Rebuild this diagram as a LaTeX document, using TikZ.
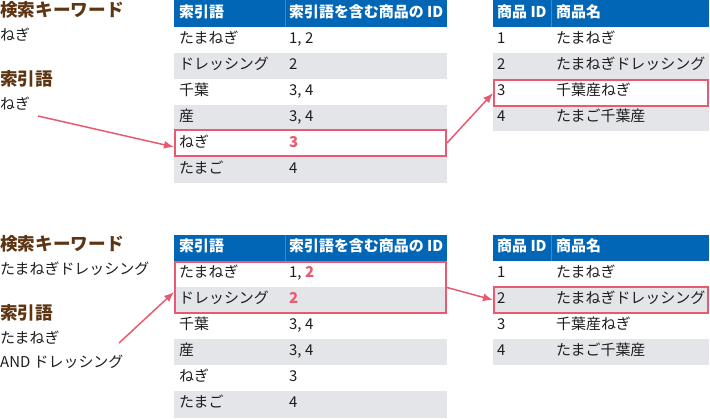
\documentclass[tikz,border=0pt]{standalone}
\usepackage{fontspec}
\setmainfont{Noto Sans CJK JP}
\usetikzlibrary{arrows.meta}
\definecolor{hdrblue}{HTML}{0066B5}
\definecolor{hdrline}{HTML}{3D8AC8}
\definecolor{rowgray}{HTML}{E4E5E9}
\definecolor{hlred}{HTML}{E95A70}
\definecolor{labbrown}{HTML}{5E3512}
\definecolor{txt}{HTML}{1E1E1E}
\begin{document}
\begin{tikzpicture}[x=1bp,y=-1bp,
  cell/.style={anchor=west, inner sep=0pt, text height=0.87em, text depth=0.13em, font=\fontsize{15}{17}\selectfont, text=txt},
  hcell/.style={cell, text=white, font=\fontsize{15}{17}\selectfont\bfseries},
  hl/.style={text=hlred, font=\fontsize{15}{17}\selectfont\bfseries},
  lab/.style={anchor=west, inner sep=0pt, text height=0.87em, text depth=0.13em, text=labbrown, font=\fontsize{17.7}{20}\selectfont\bfseries},
  labtext/.style={cell},
  hdr/.style={fill=hdrblue},
  grayrow/.style={fill=rowgray},
  hsep/.style={draw=hdrline, line width=0.8bp},
  redbox/.style={draw=hlred, line width=2bp, inner sep=0pt},
  conn/.style={draw=hlred, line width=1.5bp, -{Latex[length=10bp,width=8bp]}},
]
\useasboundingbox (0,0) rectangle (710,418);

% ---------- left labels (top) ----------
\node[lab] (k1) at (0,12.5) {検索キーワード};
\node[labtext] (k1v) at (0,37) {ねぎ};
\node[lab] (s1) at (0,82) {索引語};
\node[labtext] (s1v) at (0,106) {ねぎ};

% ---------- table A (top left) ----------
\fill[hdr] (174,0) rectangle (447,27);
\draw[hsep] (285,0) -- (285,27);
\fill[grayrow] (174,53) rectangle (447,79);
\fill[grayrow] (174,105) rectangle (447,131);
\fill[grayrow] (174,157) rectangle (447,183);
\node[hcell] (Ah1) at (179,13.5) {索引語};
\node[hcell] (Ah2) at (289,13.5) {索引語を含む商品の ID};
\node[cell] (A11) at (179,40) {たまねぎ};  \node[cell] (A12) at (289,40) {1, 2};
\node[cell] (A21) at (179,66) {ドレッシング}; \node[cell] (A22) at (289,66) {2};
\node[cell] (A31) at (179,92) {千葉};  \node[cell] (A32) at (289,92) {3, 4};
\node[cell] (A41) at (179,118) {産};  \node[cell] (A42) at (289,118) {3, 4};
\node[cell] (A51) at (179,144) {ねぎ};  \node[cell,hl] (A52) at (289,144) {3};
\node[cell] (A61) at (179,170) {たまご};  \node[cell] (A62) at (289,170) {4};
\node[redbox, minimum width=271bp, minimum height=26bp] (rA) at (310.5,143) {};

% ---------- table B (top right) ----------
\fill[hdr] (493,0) rectangle (709,27);
\draw[hsep] (551,0) -- (551,27);
\fill[grayrow] (493,53) rectangle (709,79);
\fill[grayrow] (493,105) rectangle (709,131);
\node[hcell] (Bh1) at (497,13.5) {商品 ID};
\node[hcell] (Bh2) at (556,13.5) {商品名};
\node[cell] (B11) at (497,40) {1}; \node[cell] (B12) at (556,40) {たまねぎ};
\node[cell] (B21) at (497,66) {2}; \node[cell] (B22) at (556,66) {たまねぎドレッシング};
\node[cell] (B31) at (497,92) {3}; \node[cell] (B32) at (556,92) {千葉産ねぎ};
\node[cell] (B41) at (497,118) {4}; \node[cell] (B42) at (556,118) {たまご千葉産};
\node[redbox, minimum width=214bp, minimum height=26bp] (rB) at (601,93) {};

% ---------- top connectors ----------
\coordinate (sA) at (38,116);
\draw[conn] (sA) -- ([yshift=-4bp]rA.west);
\draw[conn] (rA.east) -- (rB.west);

% ---------- left labels (bottom) ----------
\node[lab] (k2) at (0,247) {検索キーワード};
\node[labtext] (k2v) at (0,271) {たまねぎドレッシング};
\node[lab] (s2) at (0,316) {索引語};
\node[labtext] (s2v1) at (0,340) {たまねぎ};
\node[labtext] (s2v2) at (0,364) {AND ドレッシング};

% ---------- table C (bottom left) ----------
\fill[hdr] (174,235) rectangle (447,261);
\draw[hsep] (285,235) -- (285,261);
\fill[grayrow] (174,287) rectangle (447,313);
\fill[grayrow] (174,339) rectangle (447,365);
\fill[grayrow] (174,391) rectangle (447,418);
\node[hcell] (Ch1) at (179,248) {索引語};
\node[hcell] (Ch2) at (289,248) {索引語を含む商品の ID};
\node[cell] (C11) at (179,274) {たまねぎ};  \node[cell] (C12) at (289,274) {1, \textcolor{hlred}{\bfseries 2}};
\node[cell] (C21) at (179,300) {ドレッシング}; \node[cell,hl] (C22) at (289,300) {2};
\node[cell] (C31) at (179,326) {千葉};  \node[cell] (C32) at (289,326) {3, 4};
\node[cell] (C41) at (179,352) {産};  \node[cell] (C42) at (289,352) {3, 4};
\node[cell] (C51) at (179,378) {ねぎ};  \node[cell] (C52) at (289,378) {3};
\node[cell] (C61) at (179,404) {たまご};  \node[cell] (C62) at (289,404) {4};
\node[redbox, minimum width=271bp, minimum height=51bp] (rC) at (310.5,287.5) {};

% ---------- table D (bottom right) ----------
\fill[hdr] (493,235) rectangle (709,261);
\draw[hsep] (551,235) -- (551,261);
\fill[grayrow] (493,287) rectangle (709,313);
\fill[grayrow] (493,339) rectangle (709,365);
\node[hcell] (Dh1) at (497,248) {商品 ID};
\node[hcell] (Dh2) at (556,248) {商品名};
\node[cell] (D11) at (497,274) {1}; \node[cell] (D12) at (556,274) {たまねぎ};
\node[cell] (D21) at (497,300) {2}; \node[cell] (D22) at (556,300) {たまねぎドレッシング};
\node[cell] (D31) at (497,326) {3}; \node[cell] (D32) at (556,326) {千葉産ねぎ};
\node[cell] (D41) at (497,352) {4}; \node[cell] (D42) at (556,352) {たまご千葉産};
\node[redbox, minimum width=214bp, minimum height=26bp] (rD) at (601,300) {};

% ---------- bottom connectors ----------
\coordinate (sC) at (119,343);
\draw[conn] (sC) -- ([yshift=-4.5bp]rC.west);
\draw[conn] (rC.east) -- (rD.west);
\end{tikzpicture}
\end{document}
